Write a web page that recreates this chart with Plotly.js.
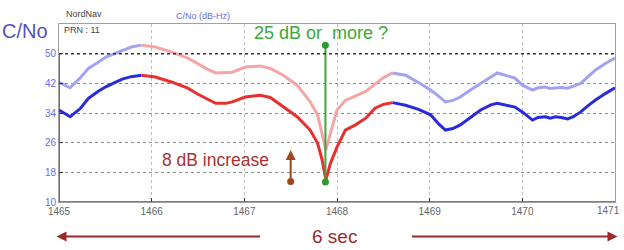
<!DOCTYPE html>
<html>
<head>
<meta charset="utf-8">
<script src="https://cdn.plot.ly/plotly-3.0.1.min.js"></script>
<style>html,body{margin:0;padding:0;background:#fff;}#chart{width:624px;height:250px;}</style>
</head>
<body>
<div id="chart"></div>
<script>
// time (s) of each sample
const timeSec = [1465.00,1465.06,1465.12,1465.23,1465.32,1465.42,1465.50,1465.60,1465.69,1465.78,1465.89,
  1466.04,1466.22,1466.39,1466.49,1466.58,1466.69,1466.80,1466.87,1467.01,1467.17,1467.28,1467.42,1467.57,
  1467.71,1467.79,1467.84,1467.88,1467.93,1468.00,1468.09,1468.20,1468.31,1468.41,1468.50,1468.60,
  1468.74,1468.88,1469.01,1469.10,1469.17,1469.25,1469.33,1469.44,1469.55,1469.66,1469.73,1469.84,1469.92,
  1470.00,1470.11,1470.17,1470.25,1470.30,1470.36,1470.42,1470.49,1470.55,1470.63,1470.71,1470.79,1470.90,1471.00];
// lower C/No trace (dB-Hz)
const cnoLower = [34.8,34.0,33.0,35.2,38.0,39.8,41.0,42.2,43.2,43.8,44.2,
  43.7,42.3,40.7,39.2,38.0,36.6,36.6,37.0,38.3,38.8,38.2,35.6,33.0,
  29.4,25.9,21.3,16.0,20.5,24.8,29.4,30.8,32.6,35.3,36.3,36.8,
  36.1,35.0,33.5,31.0,29.4,29.8,30.8,32.8,34.8,36.2,36.6,36.0,35.6,
  34.3,32.1,32.8,33.0,32.6,33.0,32.8,32.4,33.0,34.3,36.0,37.5,39.3,40.8];
// upper C/No trace (dB-Hz)
const cnoUpper = [42.3,41.5,40.8,43.5,46.1,47.6,49.0,50.0,50.9,51.8,52.3,
  51.8,50.4,48.8,47.4,46.1,44.8,44.8,45.0,46.4,46.7,46.0,44.2,41.5,
  37.0,33.5,28.6,24.0,28.6,34.8,37.4,38.6,39.8,41.8,43.5,44.8,
  44.2,42.2,40.2,38.5,37.0,37.4,38.3,40.2,42.0,43.8,44.8,44.0,43.4,
  41.5,40.2,40.8,41.0,40.6,40.8,40.9,40.7,41.2,42.0,43.8,45.6,47.4,48.8];
// red (attenuated) interval
const redStart = 1465.89, redEnd = 1468.60;
const xTicks = [1465,1466,1467,1468,1469,1470,1471];
const xTickLabels = ['1465','1466','1467','1468','1469','1470','1471'];
const yTicks = [10,18,26,34,42,50];
// annotation marker points
const greenX = [1467.875, 1467.875], greenY = [15.4, 52.3];
const brownX = [1467.5], brownYBottom = [15.5], brownYTop = 24;

function seg(vals, a, b) {
  const x = [], y = [];
  timeSec.forEach((t, i) => { if (t >= a - 1e-9 && t <= b + 1e-9) { x.push(t); y.push(vals[i]); } });
  return {x, y};
}
function line(vals, a, b, color) {
  const s = seg(vals, a, b);
  return {x: s.x, y: s.y, type: 'scatter', mode: 'lines', line: {color: color, width: 3}, hoverinfo: 'skip'};
}
const C = {dblue: '#2a2ad8', red: '#e8302e', lblue: '#a3a3f2', pink: '#f4a6a6'};
const traces = [
  line(cnoUpper, 1465, redStart, C.lblue),
  line(cnoUpper, redStart, redEnd, C.pink),
  line(cnoUpper, redEnd, 1471, C.lblue),
  line(cnoLower, 1465, redStart, C.dblue),
  line(cnoLower, redStart, redEnd, C.red),
  line(cnoLower, redEnd, 1471, C.dblue),
  {x: greenX, y: greenY, type: 'scatter', mode: 'lines+markers', line: {color: '#3aa83a', width: 2},
   marker: {color: '#2f9a2f', size: 7}, hoverinfo: 'skip'},
  {x: brownX, y: brownYBottom, type: 'scatter', mode: 'markers', marker: {color: '#a0461e', size: 7}, hoverinfo: 'skip'}
];
const F = 'Liberation Sans, Arial, sans-serif';
function P(px, py) { return {x: (px - 58.5) / 557, y: (202.5 - py) / 178.5}; }
function txt(text, px, py, size, color, anchor) {
  const p = P(px, py);
  return {text: text, xref: 'paper', yref: 'paper', x: p.x, y: p.y, xanchor: anchor || 'center', yanchor: 'middle',
    showarrow: false, font: {family: F, size: size, color: color}};
}
const annotations = [
  txt('C/No', 24, 31, 20, '#5252b8'),
  txt('NordNav', 64, 14, 9, '#444', 'left'),
  txt('PRN : 11', 62, 30, 9, '#444', 'left'),
  txt('C/No (dB-Hz)', 174, 16, 9, '#6b6be6', 'left'),
  txt('25 dB or\u00a0 more ?', 321, 33, 18, '#3aaa3a'),
  txt('8 dB increase', 215, 160, 17.5, '#a83232'),
  txt('6 sec', 334, 237, 19, '#9b2a2a'),
  // last x tick label, kept inside the page
  txt(xTickLabels[6], 623, 211, 10, '#666', 'right'),
  {x: brownX[0], y: brownYTop, xref: 'x', yref: 'y', ax: 0, ay: 30, text: '', showarrow: true,
   arrowhead: 2, arrowsize: 1, arrowwidth: 2, arrowcolor: '#a0461e'},
  Object.assign({text: '', showarrow: true, xref: 'paper', yref: 'paper', ax: 205, ay: 0,
   arrowhead: 2, arrowsize: 1, arrowwidth: 2, arrowcolor: '#9b2a2a'}, P(56, 237)),
  Object.assign({text: '', showarrow: true, xref: 'paper', yref: 'paper', ax: -207, ay: 0,
   arrowhead: 2, arrowsize: 1, arrowwidth: 2, arrowcolor: '#9b2a2a'}, P(618, 237))
];
const layout = {
  width: 624, height: 250,
  margin: {l: 58.5, r: 8.5, t: 24, b: 47.5},
  paper_bgcolor: '#fff', plot_bgcolor: '#fff',
  showlegend: false,
  font: {family: F},
  xaxis: {range: [1465, 1471], tickvals: xTicks, ticktext: xTickLabels.map((s, i) => i === 6 ? '' : s), showgrid: true,
    gridcolor: '#bdbdbd', griddash: 'dot', gridwidth: 1, zeroline: false, showline: true, linecolor: '#a0a0a0',
    mirror: true, ticks: 'inside', ticklen: 4, tickcolor: '#333',
    tickfont: {size: 10, color: '#666', family: F}},
  yaxis: {range: [10, 58], tickvals: yTicks, ticktext: yTicks.map(String), showgrid: true,
    gridcolor: '#8a8a8a', griddash: 'dot', gridwidth: 1, zeroline: false, showline: true, linecolor: '#a0a0a0',
    mirror: true, ticks: 'inside', ticklen: 4, tickcolor: '#333', tickfont: {size: 10, color: '#6b6be6', family: F}},
  shapes: [
    {type: 'line', xref: 'x', yref: 'y', x0: 1465, x1: 1471, y0: 50, y1: 50, line: {color: '#333', width: 1.5, dash: 'dot'}},
    {type: 'line', xref: 'x', yref: 'y', x0: 1465, x1: 1465, y0: 10, y1: 50, line: {color: '#444', width: 1.5}},
    {type: 'line', xref: 'x', yref: 'y', x0: 1465, x1: 1471, y0: 10, y1: 10, line: {color: '#555', width: 1.5}}
  ],
  annotations: annotations
};
Plotly.newPlot('chart', traces, layout, {displayModeBar: false, staticPlot: true});
</script>
</body>
</html>
